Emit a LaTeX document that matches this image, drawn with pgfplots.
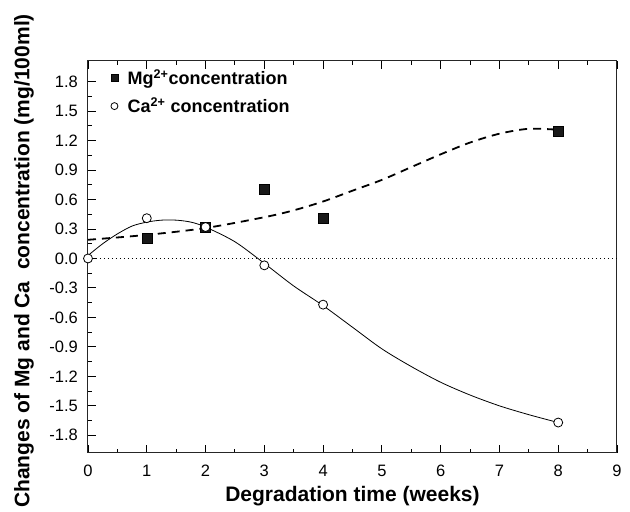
\documentclass[border=0pt]{standalone}
\usepackage{pgfplots}
\pgfplotsset{compat=1.18}
\usepackage{fontspec}
\setmainfont{Liberation Sans}
\begin{document}
\begin{tikzpicture}
\begin{axis}[
  scale only axis, width=529pt, height=392pt,
  xmin=0, xmax=9, ymin=-1.98, ymax=2.01,
  xtick={0,1,2,3,4,5,6,7,8,9}, minor x tick num=1,
  ytick={-1.8,-1.5,-1.2,-0.9,-0.6,-0.3,0,0.3,0.6,0.9,1.2,1.5,1.8},
  minor y tick num=1,
  tick align=inside, xtick pos=both, ytick pos=left,
  major tick length=8pt, minor tick length=4pt,
  tick style={line width=0.9pt, black},
  axis line style={line width=1pt, black!85},
  /pgf/number format/assume math mode=true,
  yticklabel style={/pgf/number format/fixed, /pgf/number format/fixed zerofill, /pgf/number format/precision=1},
  tick label style={font=\fontsize{16.5}{16.5}\selectfont},
  xticklabel style={anchor=base, yshift=-24pt},
  yticklabel style={anchor=east, inner sep=0pt, xshift=-10pt},
  every axis x label/.style={at={(axis description cs:0.5,0)}, anchor=base, yshift=-49pt},
  every axis y label/.style={at={(axis description cs:-0.121,0.49)}, anchor=center, rotate=90},
  label style={font=\bfseries\fontsize{21}{21}\selectfont},
  xlabel={Degradation time (weeks)},
  ylabel={Changes of Mg and Ca\ \ concentration (mg/100ml)},
  legend style={draw=none, fill=none, at={(0.043,0.982)}, anchor=north west,
    font=\bfseries\fontsize{18}{18}\selectfont, row sep=10pt, inner sep=0pt,
    nodes={inner sep=1pt}},
  legend cell align=left,
  legend image code/.code={\node[inner sep=0pt, minimum width=12pt, minimum height=1pt, draw=none, fill=none] at (6pt,0pt) {}; \draw[#1,mark size=3.5pt] plot coordinates {(6pt,0pt)};},
  clip=false,
]
% zero reference line
\addplot[forget plot, black, line width=0.8pt, dash pattern=on 1pt off 3pt] coordinates {(0,0) (9,0)};
% Mg fit (dashed)
\addplot[forget plot, black, line width=1.8pt, dash pattern=on 8pt off 6pt, smooth] coordinates {
(0,0.19) (1,0.24) (2,0.31) (3,0.42) (3.5,0.49) (4,0.58) (4.5,0.69) (5,0.80) (5.5,0.93) (6,1.06) (6.5,1.18) (7,1.27) (7.5,1.32) (8,1.31)};
% Ca fit (solid)
\addplot[forget plot, black, line width=0.8pt, smooth] coordinates {
(0,0.03) (0.25,0.15) (0.5,0.25) (0.75,0.33) (1,0.37) (1.25,0.39) (1.5,0.39) (1.75,0.37) (2,0.32) (2.5,0.17) (3,-0.05) (3.5,-0.28) (4,-0.48) (4.5,-0.70) (5,-0.92) (5.5,-1.10) (6,-1.26) (6.5,-1.39) (7,-1.50) (7.5,-1.59) (8,-1.67)};
% Mg data
\addplot[only marks, mark=square*, mark size=5pt, black, mark options={fill=black!90}] coordinates {
(1,0.21) (2,0.32) (3,0.71) (4,0.41) (8,1.30)};
\addlegendentry{Mg\textsuperscript{2+}concentration}
% Ca data
\addplot[only marks, mark=*, mark size=4.5pt, black, mark options={fill=white, line width=0.8pt}] coordinates {
(0,0.0) (1,0.41) (2,0.32) (3,-0.07) (4,-0.47) (8,-1.67)};
\addlegendentry{Ca\textsuperscript{2+} concentration}
\end{axis}
\path (-88pt,-54pt) rectangle ++(630pt,507pt);
\end{tikzpicture}
\end{document}
